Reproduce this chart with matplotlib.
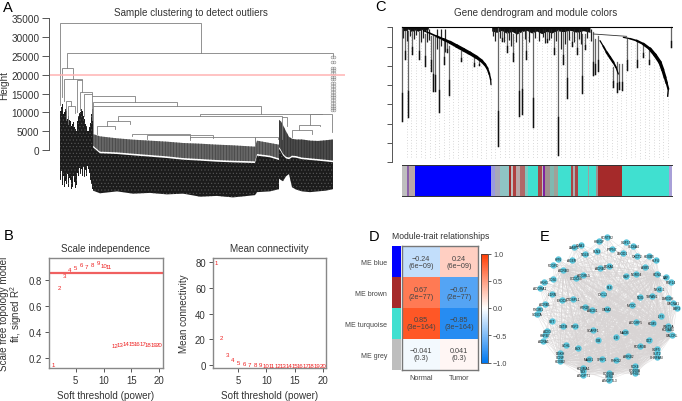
import numpy as np
import matplotlib
matplotlib.use('Agg')
import matplotlib.pyplot as plt
from matplotlib.colors import LinearSegmentedColormap

plt.rcParams['font.family'] = ['Liberation Sans', 'DejaVu Sans']
plt.rcParams['text.color'] = '#333333'
plt.rcParams['axes.labelcolor'] = '#333333'
plt.rcParams['xtick.labelcolor'] = '#333333'
plt.rcParams['ytick.labelcolor'] = '#333333'
plt.rcParams['hatch.linewidth'] = 0.4

W, H = 682, 402

# ---- panel A, sample dendrogram (x is leaf position, y is height)
a_yticks = [0, 5000, 10000, 15000, 20000, 25000, 30000, 35000]
a_cut = 20000
# x1, x2, height, end of left leg, end of right leg
a_links = [
    (60, 200.7, 33700, 12000, 25700),
    (67.3, 333, 25700, 21800, 25000),
    (61.5, 72.7, 21800, 14000, 18900),
    (63.5, 81.5, 18900, 13000, 18700),
    (76.5, 81.5, 18700, 10000, 15300),
    (65.5, 71, 13000, 8000, 11800),
    (68, 75, 11800, 7000, 9800),
    (79.5, 92.3, 15300, 10500, 14900),
    (83.5, 92.3, 14900, 9000, 14400),
    (92.3, 135, 14400, 8000, 12800),
    (93.3, 177, 12800, 11600, 11600),
    (93.3, 260.7, 11600, 4500, 9600),
    (118.3, 281.7, 9040, 7800, 8800),
    (200, 321.7, 9570, 9040, 9450),
    (310, 332, 9480, 6700, 4800),
    (107.3, 130, 7800, 6300, 6800),
    (96.7, 115, 6300, 4300, 5500),
    (299, 320, 6730, 5400, 6400),
    (292, 312, 5400, 3400, 4300),
    (132, 190, 4250, 3600, 3300),
    (147, 213, 3990, 2800, 3300),
    (190, 255, 3370, 2600, 1800),
    (255, 278, 3370, 1000, 2900),
    (282, 287, 8800, 3000, 6500),
]
a_left_x = [60, 61, 62, 63, 64, 65, 66, 67, 68, 69, 70, 71, 72, 73, 74, 75, 76, 77, 78, 79, 80, 81, 82, 83, 84, 85,
            86, 87, 88, 89, 90, 91, 92, 93]
a_left_top = [10400, 11500, 12200, 9500, 10000, 11000, 10400, 8200, 9100, 8000, 7800, 6500, 6900, 7400, 6000, 5600,
              5100, 7600, 9100, 9900, 10000, 10800, 10400, 9000, 8200, 7000, 6400, 5000, 5100, 6000, 7300, 9500,
              10800, 10800]
a_left_bot = [-8100, -5500, -9400, -7000, -9900, -8200, -9000, -6400, -9900, -7400, -8100, -10300, -9900, -7000, -8600,
              -10200, -9400, -6200, -6800, -4800, -6400, -5000, -6800, -4500, -7300, -5200, -6800, -4200, -5000, -6200,
              -8100, -9000, -10300, -10300]
a_main_x = [93, 100, 117, 133, 150, 167, 183, 200, 217, 233, 255, 257, 270, 279]
a_gray_top = [4250, 3630, 3100, 2750, 2480, 2215, 1860, 1680, 1420, 1240, 890, 2480, 1860, 1420]
a_gray_bot = [1150, -440, -620, -970, -1330, -1680, -2130, -2390, -2660, -2840, -3010, -1060, -1500, -2215]
a_main_bot = [-10800, -11500, -11000, -11600, -11400, -11800, -11600, -12400, -12200, -12600, -12000, -11200, -11000, -10400]
a_right_x = [279, 281, 283, 286, 289, 292, 296, 302, 310, 318, 326, 333]
a_right_top = [8000, 7600, 6600, 5000, 3500, 3000, 2800, 2800, 2500, 2400, 2600, 2800]
a_right_gap = [800, 0, -1000, -1800, -2000, -1500, -1600, -2000, -2200, -2400, -2600, -2800]
a_right_bot = [-7600, -8000, -8300, -7000, -6400, -9900, -10500, -11000, -11200, -11000, -10800, -10400]
a_leaf_h = [24800, 23400, 21900, 21300, 20400, 19500, 18800, 17900, 17100, 16200, 15500, 14700,
            14000, 13200, 12500, 11800, 11200, 10500]

# ---- panel B
powers = list(range(1, 21))
sft_fit = [0.144, 0.736, 0.83, 0.875, 0.89, 0.92, 0.90, 0.913, 0.933, 0.91, 0.90,
           0.296, 0.30, 0.305, 0.308, 0.308, 0.308, 0.303, 0.30, 0.303]
sft_cut = 0.854
mean_k = [79.2, 21.3, 8.7, 4.4, 2.3, 1.5, 1.0, 0.8, 0.5, 0.3, 0.3, 0.3, 0.3, 0.3, 0.3, 0.3, 0.3, 0.3, 0.3, 0.3]

# ---- panel C, gene dendrogram (x is gene position, y runs down as in the picture)
c_yticks = [85, 143, 200, 258, 316, 374, 432, 490]
# x, top, bottom
c_spikes = [
    (155, 85, 365), (165, 95, 180), (175, 95, 355), (185, 95, 165), (208, 100, 180), (225, 105, 200),
    (242, 110, 215), (250, 110, 275), (256, 115, 275), (267, 115, 340), (281, 125, 195), (296, 140, 288),
    (290, 130, 160), (332, 155, 185), (372, 175, 200), (388, 185, 198), (444, 85, 442), (455, 95, 125),
    (470, 100, 160), (490, 105, 185), (507, 100, 350), (517, 95, 345), (528, 95, 180), (548, 100, 383),
    (590, 100, 130), (612, 100, 165), (625, 92, 467), (640, 100, 195), (652, 95, 298), (665, 100, 140),
    (680, 100, 165), (697, 105, 283), (705, 105, 150), (730, 100, 228), (736, 120, 225), (745, 110, 215),
    (800, 190, 278), (806, 195, 270), (816, 195, 273), (790, 205, 265), (830, 120, 212), (862, 130, 205),
    (880, 135, 175), (897, 155, 195), (963, 85, 143),
]
# short twigs hanging off the top of the tree: x, bottom
c_twig_x = [160, 170, 180, 192, 198, 214, 220, 232, 238, 262, 272, 285, 430, 436, 450, 462, 476, 482, 498, 524,
            536, 556, 566, 578, 584, 598, 604, 618, 632, 646, 658, 672, 686, 692, 712, 722]
c_twig_y = [118, 125, 112, 120, 108, 130, 118, 128, 122, 150, 140, 160, 112, 125, 118, 130, 122, 140, 128, 120,
            130, 118, 125, 115, 132, 124, 118, 126, 150, 135, 122, 128, 120, 135, 118, 125]
c_arc1_x = [220, 240, 260, 280, 300, 320, 340, 360, 380, 395, 405, 412, 418, 422, 423]
c_arc1_y = [95, 103, 112, 121, 130, 141, 152, 163, 175, 186, 197, 208, 225, 242, 257]
c_arc1_w = [0.9, 1.2, 1.6, 2.0, 2.4, 2.6, 2.6, 2.5, 2.3, 2.0, 1.7, 1.4, 1.1, 0.9]
c_arc2_x = [820, 840, 860, 880, 900, 915, 930, 938, 945, 950, 955, 953]
c_arc2_y = [115, 119, 125, 135, 150, 168, 190, 212, 235, 252, 270, 292]
c_arc2_w = [0.9, 1.2, 1.6, 2.0, 2.4, 2.5, 2.4, 2.2, 1.9, 1.5, 1.0]
c_arc3_x = [750, 760, 770, 780, 790, 798, 805]
c_arc3_y = [125, 142, 160, 175, 190, 205, 225]
c_arc3_w = [0.9, 1.3, 1.7, 1.7, 1.3, 0.9]
c_bush1 = [155, 165, 175, 185, 195, 205, 215, 225, 235]
c_bush1_low = [92, 96, 90, 98, 93, 97, 91, 95, 90]
c_bush2 = [425, 440, 455, 470, 485, 500, 515, 530, 545, 560, 575, 590, 605, 620, 640, 660, 680, 700, 720]
c_bush2_low = [96, 100, 94, 103, 97, 105, 98, 94, 102, 96, 104, 97, 102, 95, 98, 94, 100, 95, 100]
c_env_x = [155, 220, 300, 380, 405, 423, 430, 445, 740, 760, 800, 815, 825, 900, 930, 955, 965]
c_env_y = [105, 105, 135, 180, 200, 260, 480, 115, 115, 140, 215, 275, 125, 155, 195, 275, 145]
c_colors = [
    (155, 172, '#bebebe'), (172, 176, '#8a5fa8'), (176, 195, '#b8a8a8'), (195, 422, '#0000ff'),
    (422, 435, '#9a9ae0'), (435, 450, '#a8a8b8'), (450, 478, '#8fc4c4'), (478, 482, '#a52a2a'),
    (482, 490, '#bebebe'), (490, 497, '#b04040'), (497, 510, '#b8a8a8'), (510, 525, '#b06868'),
    (525, 535, '#80c8c0'), (535, 563, '#40e0d0'), (563, 575, '#a84848'), (575, 580, '#bebebe'),
    (580, 585, '#8020a0'), (585, 600, '#a09090'), (600, 612, '#80b8b0'), (612, 625, '#a0a098'),
    (625, 663, '#40e0d0'), (663, 668, '#a84848'), (668, 675, '#a8b0b0'), (675, 683, '#a84848'),
    (683, 713, '#40e0d0'), (713, 718, '#a0a0a0'), (718, 738, '#40e0d0'), (738, 744, '#a09090'),
    (744, 815, '#a52a2a'), (815, 957, '#40e0d0'), (957, 965, '#a8a0d8'),
]

# ---- panel D
d_rows = ['ME blue', 'ME brown', 'ME turquoise', 'ME grey']
d_cols = ['Normal', 'Tumor']
d_colors = ['#0000ff', '#a52a2a', '#40e0d0', '#bebebe']
d_vals = [[-0.24, 0.24], [0.67, -0.67], [0.85, -0.85], [-0.041, 0.041]]
d_text = [['\u22120.24\n(6e\u221209)', '0.24\n(6e\u221209)'],
          ['0.67\n(2e\u221277)', '\u22120.67\n(2e\u221277)'],
          ['0.85\n(3e\u2212164)', '\u22120.85\n(3e\u2212164)'],
          ['\u22120.041\n(0.3)', '0.041\n(0.3)']]
d_ticks = [-1.0, -0.5, 0.0, 0.5, 1.0]

# ---- panel E, network nodes
e_names = ['HBEGF', 'HCRTR2', 'GDF15', 'SLC6A4', 'CMA1', 'LAMP5', 'RLN3', 'PTPN7', 'NGLB', 'LMOD1', 'OXCT2',
           'HOXB5', 'KLF4', 'HPN', 'AGER', 'PDGFD', 'ADRB3', 'ADRB2', 'FOXA1', 'ASB5', 'ADGRL1', 'CCDC68',
           'CD36', 'GBP', 'NDRG4', 'HCN4', 'EAF', 'FGF14', 'HRH1', 'ADORA1', 'FLII', 'CXCL2', 'IL1RN', 'EXOC8',
           'CTDSPL1', 'NKX6-1', 'NOG', 'TSPAN1', 'DMGDH', 'CACNA1', 'EBF3', 'ADRB1', 'PIK3R1', 'SCN7A', 'HTR2B',
           'ABCB1', 'GATA2', 'MYOC', 'ILF3', 'SYT', 'GSTM', 'FGF2', 'ADGRF5', 'KDM5', 'WNT5A', 'KCNAB1',
           'CALCRL', 'SCARF1', 'ADIG', 'HSPB7', 'ADRA1', 'MAOB', 'CIB', 'ILB', 'UCHL', 'EVX', 'OCT', 'FCGR3B',
           'GDF5', 'SLIT2', 'CHRFAM', 'DGKH', 'CCNF', 'HOXB2', 'MAGI1', 'SFRP1', 'PHKG2', 'ARRB2', 'KCNMA1',
           'TBX', 'ANGPT1', 'PDK4', 'CD200A', 'NPHS1', 'CD300A', 'GPR4', 'ANGPTL3']
e_x = [208, 232, 288, 310, 152, 132, 200, 245, 165, 278, 322, 358, 378, 85, 125, 70, 100, 210, 238, 345, 160, 138,
       70, 288, 318, 382, 409, 424, 42, 30, 238, 218, 66, 96, 130, 388, 330, 367, 415, 430, 440, 44, 26, 20, 165,
       186, 230, 305, 392, 66, 100, 135, 318, 368, 415, 415, 427, 188, 52, 44, 40, 285, 205, 259, 107, 144, 358,
       330, 380, 380, 380, 90, 90, 90, 177, 217, 258, 294, 160, 160, 160, 316, 316, 316, 237, 237, 237]
e_y = [82, 70, 84, 97, 92, 100, 110, 104, 120, 118, 126, 126, 138, 136, 138, 152, 168, 163, 156, 160, 184, 193,
       195, 185, 180, 180, 188, 203, 203, 222, 220, 241, 240, 258, 256, 226, 248, 245, 252, 266, 282, 270, 285,
       300, 280, 288, 285, 272, 306, 321, 336, 335, 324, 326, 336, 346, 362, 348, 350, 362, 380, 353, 379, 368,
       393, 402, 378, 397, 405, 417, 430, 418, 430, 442, 435, 434, 437, 425, 462, 472, 484, 457, 467, 478, 477,
       485, 497]
e_hubs = ['CALCRL', 'KCNAB1', 'HOXB2', 'CD200A', 'TBX', 'GATA2', 'ADRB3', 'HCN4', 'CD300A', 'SLIT2']


def add_ax(x0, y0, x1, y1):
    # axes from pixel box, y counted from top
    return fig.add_axes([x0 / W, 1 - y1 / H, (x1 - x0) / W, (y1 - y0) / H])


def zx(v):
    return 350 + v / 3


fig = plt.figure(figsize=(W / 100, H / 100), dpi=100)

# panel letters
for lab, px, py in [('A', 3, 8), ('B', 4, 236), ('C', 375, 7), ('D', 369, 237), ('E', 540, 237)]:
    fig.text(px / W, 1 - py / H, lab, fontsize=10.5, color='black', va='center')

# A
ax = add_ax(49, 10, 345, 200)
ax.set_xlim(49, 345)
ax.set_ylim((151 - 200) / 131.7 * 35000, (151 - 10) / 131.7 * 35000)
ax.fill_between(a_left_x, a_left_top, a_left_bot, step='post', facecolor='#1c1c1c', edgecolor='#5a5a5a', hatch='.....', lw=0)
ax.fill_between(a_main_x, a_gray_top, a_gray_bot, facecolor='#666666', edgecolor='#3a3a3a', hatch='||||||', lw=0)
ax.fill_between(a_main_x, np.array(a_gray_bot) - 450, a_main_bot, facecolor='#1c1c1c', edgecolor='#5a5a5a', hatch='.....', lw=0)
ax.fill_between(a_right_x, a_right_top, a_right_gap, facecolor='#4a4a4a', edgecolor='#2a2a2a', hatch='||||||', lw=0)
ax.fill_between(a_right_x, np.array(a_right_gap) - 450, a_right_bot, facecolor='#1c1c1c', edgecolor='#5a5a5a', hatch='.....', lw=0)
for x1, x2, h, hl, hr in a_links:
    ax.plot([x1, x1, x2, x2], [hl, h, h, hr], color='#808080', lw=0.6, solid_joinstyle='miter')
ax.plot([332] * len(a_leaf_h), a_leaf_h, 'o', ms=2, mfc='none', mec='#888888', mew=0.4, clip_on=False)
ax.plot([334] * len(a_leaf_h), a_leaf_h, 'o', ms=2, mfc='none', mec='#888888', mew=0.4, clip_on=False)
ax.axhline(a_cut, color='#ffb3b3', lw=1.1)
for s in ['top', 'right', 'bottom']:
    ax.spines[s].set_visible(False)
ax.spines['left'].set_bounds(0, 35000)
ax.spines['left'].set_color('#555555')
ax.spines['left'].set_linewidth(0.7)
ax.set_xticks([])
ax.set_yticks(a_yticks)
ax.tick_params(axis='y', length=5, width=0.7, color='#555555', labelsize=7.2, pad=2)
ax.set_ylabel('Height', fontsize=7.2)
ax.yaxis.set_label_coords(-0.135, 0.605)
fig.text(191 / W, 1 - 13 / H, 'Sample clustering to detect outliers', fontsize=7.1, ha='center', va='center')

# B left
ax = add_ax(49.3, 259.3, 162.7, 369)
ax.set_xlim(0.27, 20.6)
ax.set_ylim(0.12, 0.964)
ax.axhline(sft_cut, color='#f06060', lw=1.6)
for p, v in zip(powers, sft_fit):
    ax.text(p, v, str(p), color='#ee2222', fontsize=4.4, ha='center', va='center')
ax.set_xticks([5, 10, 15, 20])
ax.set_yticks([0.2, 0.4, 0.6, 0.8])
ax.tick_params(length=3, width=0.7, color='#555555', labelsize=6.9, pad=2)
for s in ax.spines.values():
    s.set_color('#888888')
    s.set_linewidth(1.0)
ax.set_xlabel('Soft threshold (power)', fontsize=7.1)
ax.xaxis.set_label_coords(0.5, -0.2)
ax.set_ylabel('Scale free topology model\nfit, signed R$\\mathregular{^2}$', fontsize=7.1, linespacing=1.0)
ax.yaxis.set_label_coords(-0.22, 0.5)
ax.set_title('Scale independence', fontsize=7.1, pad=5)

# B right
ax = add_ax(212.7, 259.3, 326, 369)
ax.set_xlim(0.44, 20.6)
ax.set_ylim(-2, 82.6)
for p, v in zip(powers, mean_k):
    ax.text(p, v, str(p), color='#ee2222', fontsize=4.4, ha='center', va='center')
ax.set_xticks([5, 10, 15, 20])
ax.set_yticks([0, 20, 40, 60, 80])
ax.tick_params(length=3, width=0.7, color='#555555', labelsize=6.9, pad=2)
for s in ax.spines.values():
    s.set_color('#888888')
    s.set_linewidth(1.0)
ax.set_xlabel('Soft threshold (power)', fontsize=7.1)
ax.xaxis.set_label_coords(0.5, -0.2)
ax.set_ylabel('Mean connectivity', fontsize=7.1)
ax.yaxis.set_label_coords(-0.21, 0.5)
ax.set_title('Mean connectivity', fontsize=7.1, pad=5)

# C dendrogram
ax = add_ax(zx(125), 25, zx(970), 165)
ax.set_xlim(125, 970)
ax.set_ylim(495, 75)
guide_x = np.arange(170, 966, 14)
ax.vlines(guide_x, np.interp(guide_x, c_env_x, c_env_y), 480, color='#b5b5b5', lw=0.5, linestyles=(0, (1, 3)))
for x, top, bot in c_spikes:
    ax.plot([x, x], [top, bot], color='#666666', lw=0.9)
    ax.plot([x, x], [bot - (bot - top) * 0.3, bot], color='#111111', lw=1.0)
ax.vlines(c_twig_x, 90, c_twig_y, color='#222222', lw=0.9)
for ax_x, ax_y, ax_w in [(c_arc1_x, c_arc1_y, c_arc1_w), (c_arc2_x, c_arc2_y, c_arc2_w), (c_arc3_x, c_arc3_y, c_arc3_w)]:
    for k in range(len(ax_w)):
        ax.plot(ax_x[k:k + 2], ax_y[k:k + 2], color='black', lw=ax_w[k], solid_capstyle='round')
ax.fill_between(c_bush1, 85, c_bush1_low, color='#111111', lw=0)
ax.fill_between(c_bush2, 85, c_bush2_low, color='#111111', lw=0)
ax.plot([155, 965], [85, 85], color='black', lw=0.8)
ax.plot([730, 830], [105, 112], color='#333333', lw=0.6)
for s in ['top', 'right', 'bottom']:
    ax.spines[s].set_visible(False)
ax.spines['left'].set_bounds(85, 490)
ax.spines['left'].set_color('#555555')
ax.spines['left'].set_linewidth(0.7)
ax.set_xticks([])
ax.set_yticks(c_yticks)
ax.set_yticklabels([])
ax.tick_params(axis='y', length=3.6, width=0.7, color='#555555')
fig.text(536 / W, 1 - 13 / H, 'Gene dendrogram and module colors', fontsize=7.1, ha='center', va='center')

# C colour band
ax = add_ax(zx(155), 165.7, zx(965), 197.3)
ax.set_xlim(155, 965)
ax.set_ylim(0, 1)
for x1, x2, col in c_colors:
    ax.axvspan(x1, x2, color=col, lw=0)
for s in ['left', 'right']:
    ax.spines[s].set_visible(False)
for s in ['top', 'bottom']:
    ax.spines[s].set_color('#333333')
    ax.spines[s].set_linewidth(0.7)
ax.set_xticks([])
ax.set_yticks([])

# D strip
ax = add_ax(391.7, 247.3, 401, 370.7)
ax.set_xlim(0, 1)
ax.set_ylim(len(d_rows), 0)
for i, col in enumerate(d_colors):
    ax.barh(i + 0.5, 1, height=1, color=col, lw=0)
ax.set_xticks([])
ax.set_yticks(np.arange(len(d_rows)) + 0.5)
ax.set_yticklabels(d_rows)
ax.tick_params(axis='y', length=0, labelsize=5.0, pad=3.4, labelcolor='#444444')
for s in ax.spines.values():
    s.set_visible(False)

# D heatmap
cmap = LinearSegmentedColormap.from_list('bwr2', ['#0078f0', '#ffffff', '#ff3a00'])
ax = add_ax(402.3, 247.3, 478.3, 370.7)
im = ax.imshow(np.array(d_vals), cmap=cmap, vmin=-1, vmax=1, aspect='auto')
for i in range(len(d_rows)):
    for j in range(len(d_cols)):
        ax.text(j, i, d_text[i][j], fontsize=5.2, ha='center', va='center', color='#444444', linespacing=1.0)
ax.set_xticks(range(len(d_cols)))
ax.set_xticklabels(d_cols)
ax.set_yticks([])
ax.tick_params(axis='x', length=0, labelsize=5.2, pad=3, labelcolor='#444444')
for s in ax.spines.values():
    s.set_color('#777777')
    s.set_linewidth(1.0)
fig.text(391.5 / W, 1 - 237 / H, 'Module-trait relationships', fontsize=6.2, va='center')

cax = add_ax(481, 254.5, 487.5, 363.5)
cb = fig.colorbar(im, cax=cax, ticks=d_ticks)
cb.ax.set_yticklabels(['\u22121.0', '\u22120.5', '0.0', '0.5', '1.0'])
cb.ax.tick_params(length=2, width=0.6, labelsize=5.2, pad=2, color='#444444', labelcolor='#444444')
cb.outline.set_linewidth(0.6)
cb.outline.set_edgecolor('#444444')

# E network
ax = add_ax(530, 215, 682, 402)
ax.set_xlim(0, 456)
ax.set_ylim(561, 0)
ax.axis('off')
pos = dict(zip(e_names, zip(e_x, e_y)))
for hub in e_hubs:
    hx, hy = pos[hub]
    for nx, ny in zip(e_x, e_y):
        ax.plot([hx, nx], [hy, ny], color='#d8d4d4', lw=0.35, alpha=0.7, zorder=1)
ax.scatter(e_x, e_y, s=21, color='#5cc6dc', lw=0, zorder=2)
for name, nx, ny in zip(e_names, e_x, e_y):
    ax.text(nx, ny, name, fontsize=2.3, ha='center', va='center', color='#111111', zorder=3)

fig.savefig('out.png', dpi=100)
